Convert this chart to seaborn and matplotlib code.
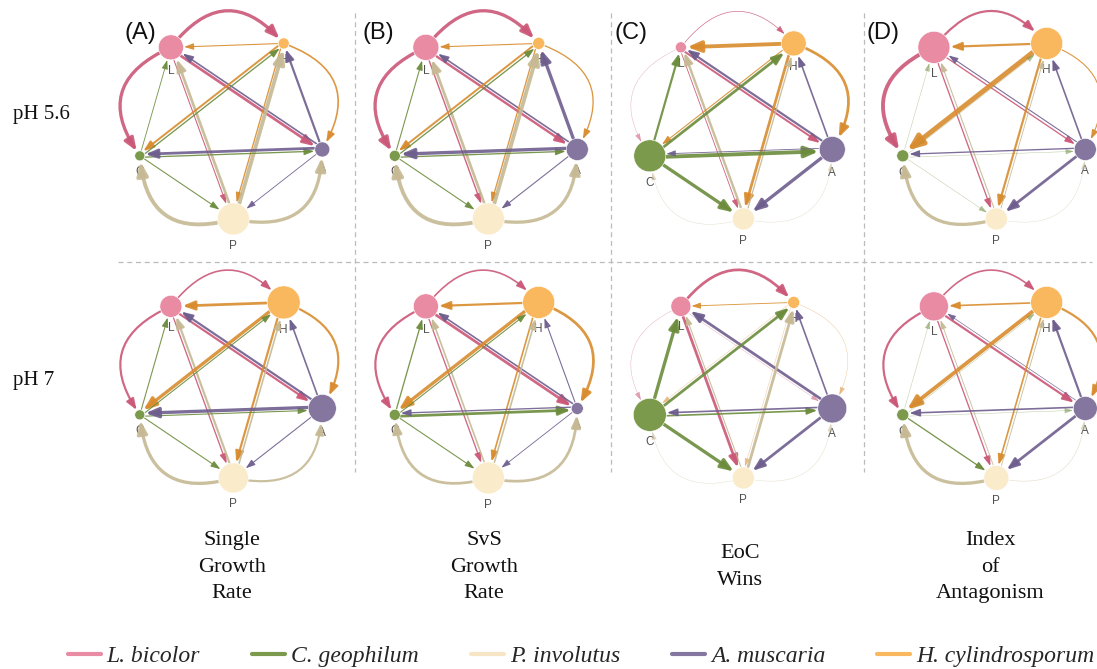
import numpy as np
import pandas as pd
import matplotlib
matplotlib.use("Agg")
import matplotlib.pyplot as plt
from matplotlib.patches import FancyArrowPatch, ArrowStyle
from matplotlib.lines import Line2D
import seaborn as sns

# ── data ─────────────────────────────────────────────────────────────────────
SPECIES = ["L", "H", "A", "P", "C"]
LEGEND_KEYS = ["L", "C", "P", "A", "H"]
LEGEND_NAMES = ["L. bicolor", "C. geophilum", "P. involutus", "A. muscaria", "H. cylindrosporum"]
PANEL_LETTERS = ["(A)", "(B)", "(C)", "(D)"]
COLUMN_TITLES = ["Single\nGrowth\nRate", "SvS\nGrowth\nRate", "EoC\nWins", "Index\nof\nAntagonism"]
ROW_TITLES = ["pH 5.6", "pH 7"]

NODE_FILL = {"L": "#EA8BA4", "H": "#F9B75E", "A": "#85769F", "P": "#FAEBCB", "C": "#7C9A4C"}
EDGE_COLOR = {"L": "#CB5878", "H": "#D98C2E", "A": "#6E5E8E", "P": "#C6B994", "C": "#6C8C3C"}
LEGEND_COLOR = {"L": "#EA8BA4", "H": "#F9B75E", "A": "#85769F", "P": "#F7E6C6", "C": "#7C9A4C"}

# node radius (px), order L H A P C
NODE_R_PH56 = [[12.5, 5.5, 7.5, 16, 5],
               [13, 6, 11, 16, 5.5],
               [5.5, 12.5, 13, 11, 16],
               [16, 16, 11, 11, 6]]
NODE_R_PH7 = [[11, 16.5, 14, 15, 5],
              [12.5, 16, 6, 16, 5.5],
              [10, 6, 14.5, 11, 16.5],
              [14.5, 16, 12, 12.5, 6]]

# directed edges: first five are drawn as outer arcs
EDGES = [("L", "H"), ("H", "A"), ("P", "A"), ("P", "C"), ("L", "C"),
         ("H", "L"), ("A", "H"), ("A", "P"), ("C", "P"), ("C", "L"),
         ("L", "A"), ("A", "L"), ("L", "P"), ("P", "L"), ("H", "C"),
         ("C", "H"), ("H", "P"), ("P", "H"), ("C", "A"), ("A", "C")]

# edge widths (px), same order as EDGES
W_PH56 = [[3, 1.5, 3, 3.5, 3, 1, 2, 0.8, 1, 0.8, 2.5, 1.5, 1, 2.5, 1.8, 1.2, 1.2, 3.5, 1.2, 2.5],
          [3, 1.2, 3, 3.5, 3, 1, 3, 1, 1, 1, 2.2, 1.5, 1.3, 2.5, 1.8, 1.2, 1.2, 3.5, 1.2, 3],
          [0.6, 2.5, 0.4, 0.4, 0.4, 3.5, 1.5, 3, 3, 2, 1.8, 2, 0.8, 2.2, 1, 2.5, 2.5, 1.2, 3.5, 0.8],
          [2, 1, 0.4, 3, 3.5, 2, 1.5, 2.5, 0.4, 0.4, 1.2, 1, 1.2, 1, 4.5, 0.4, 2, 0.8, 0.4, 1.2]]
W_PH7 = [[1.5, 2, 2, 3, 2, 2.5, 1.5, 1, 1, 1, 2, 2, 1.2, 2, 3, 1, 2, 1.5, 1, 3],
         [1.5, 2.5, 2.5, 2.5, 2, 2, 1, 0.8, 1, 1.2, 2.5, 1.5, 1.2, 1.5, 3, 1, 1.5, 1.5, 2.5, 1.2],
         [2.5, 0.4, 0.4, 0.4, 0.4, 0.8, 1.5, 2.5, 3, 3, 0.4, 2.5, 2.5, 1, 0.4, 2.5, 0.4, 2.5, 1.5, 1.5],
         [1.5, 2, 0.5, 3, 2, 1.5, 2, 2.5, 1.2, 0.4, 2, 0.6, 1.2, 0.8, 3.5, 0.4, 1.5, 0.8, 0.4, 1.5]]

# ── layout ───────────────────────────────────────────────────────────────────
W, H, DPI = 1097, 669, 100
PX = 72 / DPI
COL_X = [230, 485, 740, 993]
ROW_Y = [123, 382]
RING = 96
ANGLES = {"L": 128, "H": 56, "A": -16, "P": -88, "C": -160}
ARC_RAD = 0.6

sns.set_theme(style="white")
plt.rcParams["font.family"] = ["Liberation Sans", "DejaVu Sans"]

fig = plt.figure(figsize=(W / DPI, H / DPI), dpi=DPI)
ax = fig.add_axes([0, 0, 1, 1])
ax.set_xlim(0, W)
ax.set_ylim(H, 0)
ax.axis("off")


def draw_panel(cx, cy, radii, widths):
    pos = {s: (cx + RING * np.cos(np.radians(ANGLES[s])),
               cy - RING * np.sin(np.radians(ANGLES[s]))) for s in SPECIES}
    rad = dict(zip(SPECIES, radii))

    nodes = pd.DataFrame({"sp": SPECIES,
                          "x": [pos[s][0] for s in SPECIES],
                          "y": [pos[s][1] for s in SPECIES],
                          "area": [(2 * rad[s] * PX) ** 2 for s in SPECIES]})
    smin, smax = nodes["area"].min(), nodes["area"].max()
    sns.scatterplot(data=nodes, x="x", y="y", hue="sp", palette=NODE_FILL,
                    size="area", sizes=(smin, smax), size_norm=(smin, smax),
                    edgecolor="white", linewidth=0.4, legend=False, zorder=4, ax=ax)
    for s in SPECIES:
        ax.text(pos[s][0], pos[s][1] + rad[s] + 11, s, ha="center", va="center",
                fontsize=8.5, color="#505050", zorder=1)

    for i, ((s, t), w) in enumerate(zip(EDGES, widths)):
        (x1, y1), (x2, y2) = pos[s], pos[t]
        conn = "arc3,rad=0"
        if i < 5:
            dx, dy = x2 - x1, y2 - y1
            mx, my = (x1 + x2) / 2 - cx, (y1 + y2) / 2 - cy
            sign = 1 if (-dy * mx + dx * my) > 0 else -1
            conn = f"arc3,rad={sign * ARC_RAD}"
        elif (t, s) not in EDGES[:5]:
            d = np.hypot(x2 - x1, y2 - y1)
            ox, oy = -(y2 - y1) / d * 1.5, (x2 - x1) / d * 1.5
            x1, y1, x2, y2 = x1 + ox, y1 + oy, x2 + ox, y2 + oy
        style = ArrowStyle("-|>", head_length=(6.5 + 1.3 * w) * PX,
                           head_width=(2.0 + 0.7 * w) * PX)
        arr = FancyArrowPatch((x1, y1), (x2, y2), arrowstyle=style,
                              connectionstyle=conn, mutation_scale=1,
                              shrinkA=rad[s] * PX + 0.5, shrinkB=rad[t] * PX + 0.5,
                              lw=w * PX * 1.1, color=EDGE_COLOR[s],
                              alpha=0.5 if w < 0.6 else 0.9, zorder=2)
        ax.add_patch(arr)


for c in range(4):
    draw_panel(COL_X[c], ROW_Y[0], NODE_R_PH56[c], W_PH56[c])
    draw_panel(COL_X[c], ROW_Y[1], NODE_R_PH7[c], W_PH7[c])

# separators
for x in [355, 611, 864]:
    ax.plot([x, x], [13, 472], ls=(0, (4, 3)), color="#BBBBBB", lw=0.9, zorder=0)
ax.plot([118, 1092], [262, 262], ls=(0, (4, 3)), color="#BBBBBB", lw=0.9, zorder=0)

# texts
for x, lab in zip([124, 362, 615, 866], PANEL_LETTERS):
    ax.text(x, 33, lab, ha="left", va="center", fontsize=17, color="#111111")
for y, lab in zip([115, 380], ROW_TITLES):
    ax.text(13, y, lab, ha="left", va="center", fontsize=15,
            family="Liberation Serif", color="#111111")
for x, lab in zip([232, 484, 740, 990], COLUMN_TITLES):
    ax.text(x, 567, lab, ha="center", va="center", fontsize=16,
            family="Liberation Serif", linespacing=1.55, color="#111111")

handles = [Line2D([0], [0], color=LEGEND_COLOR[k], lw=3) for k in LEGEND_KEYS]
fig.legend(handles, LEGEND_NAMES, loc="center", ncol=5,
           bbox_to_anchor=(581 / W, 1 - 656 / H), frameon=False,
           prop={"family": "Liberation Serif", "style": "italic", "size": 17},
           handlelength=1.4, handletextpad=0.25, columnspacing=2.2)

fig.savefig("out.png", dpi=DPI)
